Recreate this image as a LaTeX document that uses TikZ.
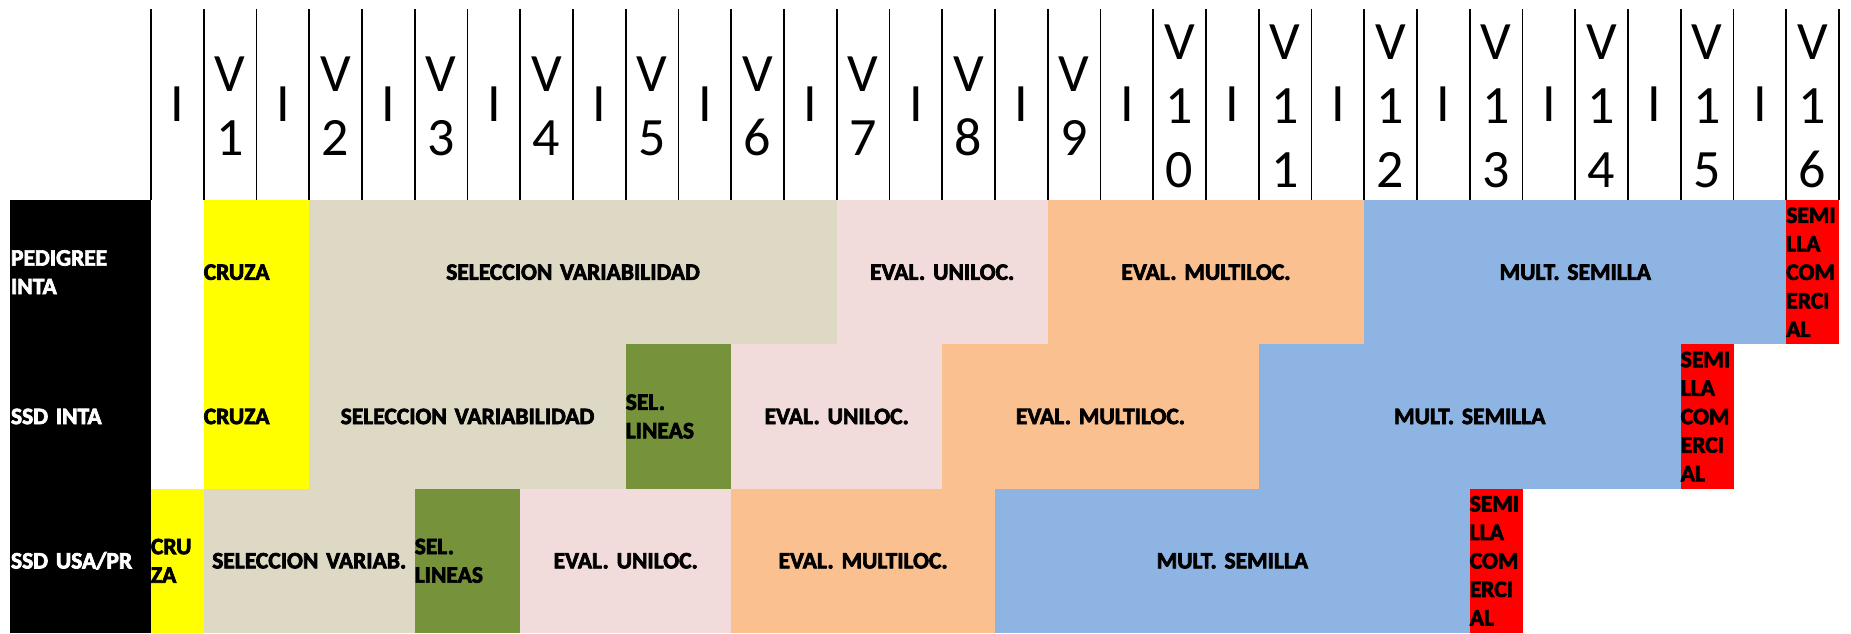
\documentclass[tikz,border=0pt]{standalone}
\usepackage{fontspec}
\setmainfont{Carlito}[BoldFeatures={FakeBold=3}]
\newfontfamily\hdrfont{Carlito}
\definecolor{cyellow}{HTML}{FFFF00}
\definecolor{cbeige}{HTML}{DDD9C4}
\definecolor{cpink}{HTML}{F2DCDB}
\definecolor{corange}{HTML}{FAC090}
\definecolor{cblue}{HTML}{8DB4E2}
\definecolor{cgreen}{HTML}{76933C}
\definecolor{cred}{HTML}{FF0000}
\newcommand{\lblfont}{\bfseries\fontsize{23.5}{28.5}\selectfont\spaceskip=3.6pt plus 1pt minus 1pt\relax}
\tikzset{
  cell/.style={anchor=north west, inner sep=0pt, outer sep=0pt, draw=none,
    minimum height=144.3pt, font=\lblfont, text=black},
  lcell/.style={cell, align=left},
  ccell/.style={cell, align=center},
  rowlab/.style={anchor=north west, inner sep=0pt, outer sep=0pt, fill=black, text=white,
    minimum width=141pt, text width=139pt, minimum height=144.3pt, align=left,
    font=\lblfont},
  hdr/.style={inner sep=0pt, outer sep=0pt, align=center, text width=52pt,
    font=\hdrfont\fontsize{54}{64}\selectfont},
  gridline/.style={draw=black, line width=1.6pt}
}
\newcommand{\mkcell}[7]{%
  \node[#5, fill=#6, minimum width={#4*52.75pt}, text width={#4*52.75pt}]
    (#1) at ({151+52.75*#3},{200+144.3*#2}) {#7};}
\begin{document}
\begin{tikzpicture}[x=1pt,y=-1pt]
\useasboundingbox (0,0) rectangle (1851,633);
% header grid
\foreach \i in {0,...,32}
  \draw[gridline] ({151+52.75*\i},9) -- ({151+52.75*\i},200);
\foreach \k in {0,...,15}
  \node[hdr] (hi\k) at ({151+52.75*(2*\k)+26.375},104) {I};
\foreach \k/\lab in {1/{V\\1},2/{V\\2},3/{V\\3},4/{V\\4},5/{V\\5},6/{V\\6},7/{V\\7},8/{V\\8},9/{V\\9},
   10/{V\\1\\0},11/{V\\1\\1},12/{V\\1\\2},13/{V\\1\\3},14/{V\\1\\4},15/{V\\1\\5},16/{V\\1\\6}}
  \node[hdr] (hv\k) at ({151+52.75*(2*\k-1)+26.375},106.5) {\lab};
% row labels
\node[rowlab] (lab0) at (10,200) {PEDIGREE\\INTA};
\node[rowlab] (lab1) at (10,344.3) {SSD INTA};
\node[rowlab] (lab2) at (10,488.6) {SSD USA/PR};
% row 0: PEDIGREE INTA
\mkcell{p0c}{0}{1}{2}{lcell}{cyellow}{CRUZA}
\mkcell{p0s}{0}{3}{10}{ccell}{cbeige}{SELECCION VARIABILIDAD}
\mkcell{p0u}{0}{13}{4}{ccell}{cpink}{EVAL. UNILOC.}
\mkcell{p0m}{0}{17}{6}{ccell}{corange}{EVAL. MULTILOC.}
\mkcell{p0x}{0}{23}{8}{ccell}{cblue}{MULT. SEMILLA}
\mkcell{p0r}{0}{31}{1}{lcell}{cred}{SEMI\\LLA\\COM\\ERCI\\AL}
% row 1: SSD INTA
\mkcell{s1c}{1}{1}{2}{lcell}{cyellow}{CRUZA}
\mkcell{s1s}{1}{3}{6}{ccell}{cbeige}{SELECCION VARIABILIDAD}
\mkcell{s1l}{1}{9}{2}{lcell}{cgreen}{SEL.\\LINEAS}
\mkcell{s1u}{1}{11}{4}{ccell}{cpink}{EVAL. UNILOC.}
\mkcell{s1m}{1}{15}{6}{ccell}{corange}{EVAL. MULTILOC.}
\mkcell{s1x}{1}{21}{8}{ccell}{cblue}{MULT. SEMILLA}
\mkcell{s1r}{1}{29}{1}{lcell}{cred}{SEMI\\LLA\\COM\\ERCI\\AL}
% row 2: SSD USA/PR
\mkcell{u2c}{2}{0}{1}{lcell}{cyellow}{CRU\\ZA}
\mkcell{u2s}{2}{1}{4}{ccell}{cbeige}{SELECCION VARIAB.}
\mkcell{u2l}{2}{5}{2}{lcell}{cgreen}{SEL.\\LINEAS}
\mkcell{u2u}{2}{7}{4}{ccell}{cpink}{EVAL. UNILOC.}
\mkcell{u2m}{2}{11}{5}{ccell}{corange}{EVAL. MULTILOC.}
\mkcell{u2x}{2}{16}{9}{ccell}{cblue}{MULT. SEMILLA}
\mkcell{u2r}{2}{25}{1}{lcell}{cred}{SEMI\\LLA\\COM\\ERCI\\AL}
\end{tikzpicture}
\end{document}
